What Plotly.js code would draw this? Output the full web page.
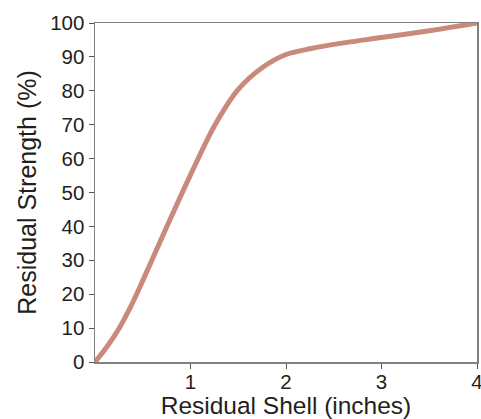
<!DOCTYPE html>
<html>
<head>
<meta charset="utf-8">
<script src="https://cdn.plot.ly/plotly-3.0.1.min.js"></script>
<style>html,body{margin:0;padding:0;background:#fff;}#chart{width:481px;height:419px;}</style>
</head>
<body>
<div id="chart"></div>
<script>
const shellInches = [0, 0.125, 0.25, 0.375, 0.5, 0.75, 1.0, 1.25, 1.5, 1.75, 2.0, 2.25, 2.5, 3.0, 3.5, 4.0];
const residualStrength = [0, 4.5, 9.8, 16.4, 24.0, 39.8, 55.2, 69.6, 80.4, 86.8, 90.7, 92.4, 93.7, 95.7, 97.7, 100];
const xTicks = [1, 2, 3, 4];
const yTicks = [0, 10, 20, 30, 40, 50, 60, 70, 80, 90, 100];

const trace = {
  x: shellInches,
  y: residualStrength,
  mode: 'lines',
  line: {color: '#c98a7b', width: 5, shape: 'spline', smoothing: 0.8},
  cliponaxis: false,
  hoverinfo: 'skip'
};

const fam = 'Liberation Sans, Arial, Helvetica, sans-serif';
const txt = '#231f20';

const layout = {
  width: 481, height: 419,
  margin: {l: 95, r: 4, t: 23, b: 57},
  paper_bgcolor: '#fff', plot_bgcolor: '#fff',
  showlegend: false,
  font: {family: fam, color: txt},
  xaxis: {
    range: [0, 4], tickvals: xTicks, ticktext: xTicks.map(String),
    ticks: 'outside', ticklen: 5, tickwidth: 1, tickcolor: '#555',
    showline: true, linecolor: '#808080', linewidth: 1.5, mirror: true,
    showgrid: false, zeroline: false, ticklabeloverflow: 'allow',
    ticklabelstandoff: -4,
    tickfont: {size: 20.5, family: fam, color: txt},
    title: {text: 'Residual Shell (inches)', font: {size: 24.5, family: fam, color: txt}, standoff: 2},
    automargin: false
  },
  yaxis: {
    range: [0, 100], tickvals: yTicks, ticktext: yTicks.map(String),
    ticks: 'outside', ticklen: 5, tickwidth: 1, tickcolor: '#555',
    showline: true, linecolor: '#808080', linewidth: 1.5, mirror: true,
    showgrid: false, zeroline: false, ticklabeloverflow: 'allow',
    tickfont: {size: 20.5, family: fam, color: txt},
    title: {text: 'Residual Strength (%)', font: {size: 25, family: fam, color: txt}, standoff: 6},
    automargin: false
  }
};

Plotly.newPlot('chart', [trace], layout, {staticPlot: true, displayModeBar: false});
</script>
</body>
</html>
